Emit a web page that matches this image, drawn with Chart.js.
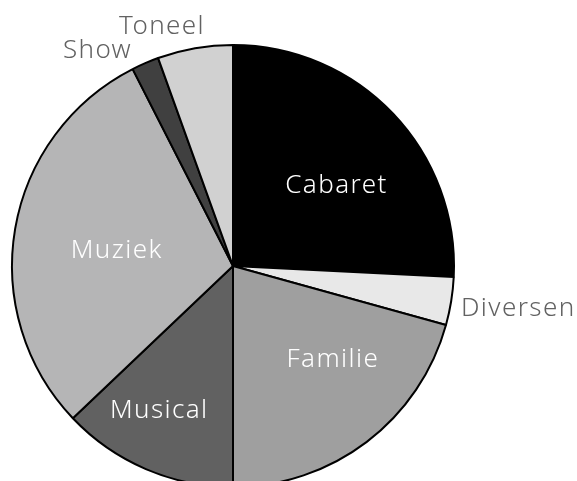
<!DOCTYPE html>
<html lang="nl">
<head>
    <meta charset="UTF-8">
    <title>Voorstellingen per genre</title>
    <script src="https://cdn.jsdelivr.net/npm/chart.js"></script>
    <style>
        body { margin: 0; background: #fff; }
        #wrap { width: 577px; height: 481px; }
    </style>
</head>
<body>
    <div id="wrap"><canvas id="pieChart"></canvas></div>

    <script>
        // data (share in %)
        const genres = ["Cabaret", "Diversen", "Familie", "Musical", "Muziek", "Show", "Toneel"];
        const shares = [25.8, 3.5, 20.7, 12.9, 29.6, 2.0, 5.5];

        const fills = ["#000000", "#e8e8e8", "#9f9f9f", "#616161", "#b5b5b6", "#404040", "#d1d1d1"];
        // label placement: radius as fraction of the pie radius, and a small turn (deg) off the slice middle
        const labelRadius = [0.597, 1.304, 0.613, 0.725, 0.532, 1.16, 1.138];
        const labelTurn = [5.2, -1.0, -10.2, 4.2, -1.3, -8.5, -6.5];
        const labelColor = ["#fff", "#626262", "#fff", "#fff", "#fff", "#626262", "#626262"];

        const FONT_PX = 26;

        const labelPlugin = {
            id: 'sliceLabels',
            afterDatasetsDraw(chart) {
                const ctx = chart.ctx;
                const meta = chart.getDatasetMeta(0);
                ctx.save();
                ctx.font = '300 ' + FONT_PX + 'px "Noto Sans", sans-serif';
                if ('letterSpacing' in ctx) ctx.letterSpacing = '1.4px';
                ctx.textAlign = 'center';
                ctx.textBaseline = 'alphabetic';
                meta.data.forEach((arc, i) => {
                    const p = arc.getProps(['x', 'y', 'startAngle', 'endAngle', 'outerRadius']);
                    const a = (p.startAngle + p.endAngle) / 2 + labelTurn[i] * Math.PI / 180;
                    const r = p.outerRadius * labelRadius[i];
                    ctx.fillStyle = labelColor[i];
                    // centre of the capitals sits on the point
                    ctx.fillText(genres[i], p.x + Math.cos(a) * r, p.y + Math.sin(a) * r + FONT_PX * 0.357);
                });
                ctx.restore();
            }
        };

        new Chart(document.getElementById('pieChart'), {
            type: 'pie',
            data: {
                labels: genres,
                datasets: [{
                    data: shares,
                    backgroundColor: fills,
                    borderColor: '#000000',
                    borderWidth: 2,
                    radius: 221
                }]
            },
            options: {
                responsive: true,
                maintainAspectRatio: false,
                animation: false,
                layout: { padding: { left: 0, right: 111, top: 51, bottom: 0 } },
                plugins: {
                    legend: { display: false },
                    tooltip: { enabled: false }
                }
            },
            plugins: [labelPlugin]
        });
    </script>
</body>
</html>
